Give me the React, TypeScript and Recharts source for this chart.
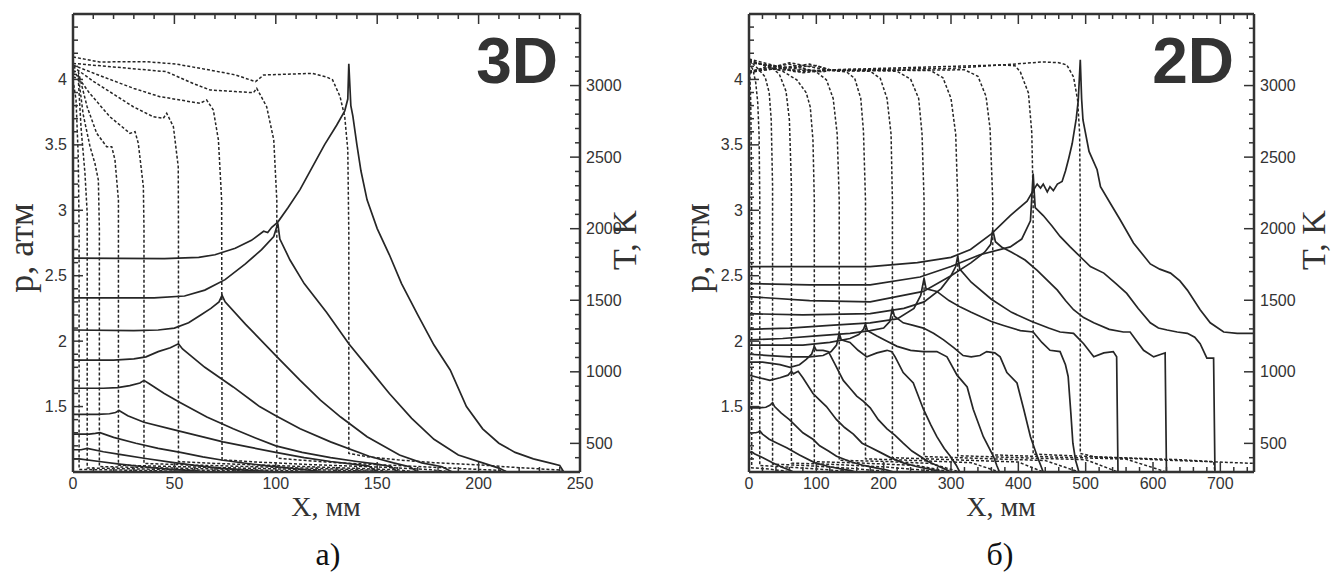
import React from 'react';
import { LineChart, Line, XAxis, YAxis, ReferenceLine } from 'recharts';

type Pt = [number, number];

// ---------- Axis ticks ----------
const x3dTicks = [0,10,20,30,40,50,60,70,80,90,100,110,120,130,140,150,160,170,180,190,200,210,220,230,240,250];
const x3dLabels = [0,50,100,150,200,250];
const x2dTicks = [0,20,40,60,80,100,120,140,160,180,200,220,240,260,280,300,320,340,360,380,400,420,440,460,480,500,520,540,560,580,600,620,640,660,680,700,720,740];
const x2dLabels = [0,100,200,300,400,500,600,700];
const pTicks = [1.1,1.2,1.3,1.4,1.5,1.6,1.7,1.8,1.9,2,2.1,2.2,2.3,2.4,2.5,2.6,2.7,2.8,2.9,3,3.1,3.2,3.3,3.4,3.5,3.6,3.7,3.8,3.9,4,4.1,4.2,4.3,4.4];
const pLabels = [1.5,2,2.5,3,3.5,4];
const TTicks = [400,500,600,700,800,900,1000,1100,1200,1300,1400,1500,1600,1700,1800,1900,2000,2100,2200,2300,2400,2500,2600,2700,2800,2900,3000,3100,3200,3300,3400];
const TLabels = [500,1000,1500,2000,2500,3000];

// ---------- 3D: pressure (solid), x mm -> p atm ----------
const p3d_1: Pt[] = [[0,1.10],[3,1.10],[13,1.08],[23,1.06],[35,1.04],[48,1.02],[60,1.01],[65,1.0]];
const p3d_2: Pt[] = [[0,1.17],[4,1.17],[7,1.18],[15,1.155],[23,1.135],[35,1.105],[48,1.075],[60,1.05],[72,1.03],[85,1.015],[100,1.0]];
const p3d_3: Pt[] = [[0,1.29],[8,1.29],[11,1.295],[13.3,1.30],[20,1.265],[31,1.22],[42,1.18],[53,1.15],[64,1.115],[74,1.09],[86,1.065],[97,1.045],[110,1.025],[125,1.0]];
const p3d_4: Pt[] = [[0,1.44],[12,1.44],[18,1.445],[21,1.455],[22.7,1.47],[27,1.43],[35,1.38],[48,1.33],[61,1.28],[74,1.23],[87,1.19],[100,1.15],[114,1.11],[127,1.08],[138,1.06],[146,1.045],[150,1.0]];
const p3d_5: Pt[] = [[0,1.64],[15,1.64],[22,1.645],[28,1.66],[33,1.68],[35,1.70],[38,1.67],[45,1.60],[53,1.53],[66,1.42],[79,1.33],[90,1.26],[100,1.20],[113,1.15],[127,1.11],[140,1.08],[150,1.06],[157,1.04],[160,1.0]];
const p3d_6: Pt[] = [[0,1.855],[20,1.855],[30,1.865],[36,1.88],[42,1.92],[48,1.95],[52,1.98],[54,1.94],[65,1.80],[79,1.65],[92,1.50],[100,1.43],[112,1.33],[127,1.23],[146,1.12],[158,1.07],[166,1.04],[170,1.0]];
const p3d_7: Pt[] = [[0,2.085],[30,2.08],[42,2.085],[50,2.10],[57,2.14],[63,2.20],[68,2.25],[72,2.30],[73.5,2.35],[75,2.30],[85,2.13],[100,1.89],[112,1.70],[122,1.55],[132,1.42],[145,1.27],[161,1.13],[172,1.07],[182,1.04],[187,1.0]];
const p3d_8: Pt[] = [[0,2.33],[40,2.33],[55,2.345],[65,2.39],[75,2.47],[85,2.59],[93,2.70],[99,2.80],[101,2.90],[102,2.78],[107,2.62],[114,2.44],[125,2.22],[136,1.98],[146,1.79],[156,1.60],[167,1.41],[178,1.25],[190,1.13],[202,1.07],[210,1.03],[214,1.0]];
const p3d_9: Pt[] = [[0,2.635],[45,2.63],[62,2.64],[70,2.66],[80,2.71],[88,2.77],[94,2.84],[96,2.83],[98,2.87],[101,2.91],[106,3.02],[112,3.16],[118,3.33],[124,3.50],[130,3.65],[134,3.76],[135.5,3.85],[136,4.12],[137,3.80],[138,3.72],[140,3.50],[142,3.30],[145,3.08],[150,2.86],[156,2.66],[162,2.44],[170,2.20],[178,1.97],[186,1.78],[194,1.50],[202,1.33],[210,1.22],[218,1.15],[227,1.10],[235,1.07],[240,1.05],[242,1.0]];

// ---------- 3D: temperature (dashed), x mm -> T K ----------
const t3d_1: Pt[] = [[0,3040],[1.5,2900],[2.6,2500],[3,2000],[3,318],[30,312],[55,305],[65,300]];
const t3d_2: Pt[] = [[0,3060],[2.6,3050],[4,2700],[5.9,2387],[7,2110],[7,328],[30,322],[60,314],[90,306],[100,300]];
const t3d_3: Pt[] = [[0,3080],[2.6,3074],[5,2800],[8.4,2573],[10.8,2457],[12.5,2340],[13,2000],[13,338],[40,330],[80,318],[110,308],[125,300]];
const t3d_4: Pt[] = [[0,3100],[2.6,3097],[7,2850],[11.7,2666],[16.6,2573],[19.1,2573],[20.7,2480],[22.4,2200],[22.4,348],[50,338],[90,325],[120,316],[148,305],[150,300]];
const t3d_5: Pt[] = [[0,3109],[8,2950],[18.2,2782],[28.1,2666],[30.6,2678],[32.2,2596],[34.7,2293],[35,2000],[35,360],[60,348],[90,337],[120,325],[150,312],[160,300]];
const t3d_6: Pt[] = [[0,3132],[10,3030],[20,2940],[29.7,2852],[39.6,2782],[44.5,2771],[46.2,2806],[49.5,2713],[51.9,2433],[52,2000],[52,372],[70,360],[100,345],[130,330],[160,315],[170,300]];
const t3d_7: Pt[] = [[0,3143],[15,3060],[30,2980],[42.9,2922],[47.9,2911],[62.6,2876],[65.9,2899],[69.2,2829],[71.7,2620],[73.3,2200],[73.5,385],[90,370],[120,350],[150,335],[175,318],[187,300]];
const t3d_8: Pt[] = [[0,3155],[20,3130],[46,3097],[60,3010],[67.6,2969],[80,2958],[89,2950],[90.6,2981],[95.5,2852],[99,2620],[100.5,2200],[100.5,398],[110,385],[130,365],[160,345],[190,325],[212,310],[214,300]];
const t3d_9: Pt[] = [[0,3200],[13,3165],[36,3167],[51,3150],[63,3120],[80,3075],[90,3027],[94,3074],[118,3085],[125,3060],[128,3040],[131.7,2922],[134,2782],[135.5,2550],[136,1968],[136,430],[145,407],[160,385],[178,365],[201,349],[215,335],[230,322],[240,314],[242,300]];

// ---------- 2D: pressure (solid) ----------
const p2d_01: Pt[] = [[0,1.145],[2,1.15],[4,1.155],[8,1.14],[20,1.11],[35,1.07],[50,1.035],[60,1.015],[66,1.0]];
const p2d_02: Pt[] = [[0,1.30],[10,1.30],[14,1.305],[16,1.315],[20,1.29],[30,1.25],[42,1.22],[56,1.185],[75,1.13],[98,1.07],[120,1.04],[140,1.02],[152,1.01],[158,1.0]];
const p2d_03: Pt[] = [[0,1.49],[15,1.49],[25,1.495],[31,1.51],[35,1.53],[38,1.50],[48,1.45],[60,1.40],[80,1.30],[95,1.25],[105,1.20],[118,1.16],[130,1.12],[150,1.08],[170,1.05],[190,1.03],[205,1.015],[215,1.0]];
const p2d_04: Pt[] = [[0,1.74],[15,1.72],[31,1.70],[46,1.72],[58,1.74],[63,1.77],[66,1.75],[73,1.77],[80,1.72],[95,1.60],[105,1.55],[115,1.50],[130,1.40],[142,1.34],[155,1.29],[168,1.22],[180,1.19],[195,1.15],[210,1.11],[229,1.07],[250,1.04],[270,1.02],[290,1.0]];
const p2d_05: Pt[] = [[0,1.84],[20,1.84],[46,1.82],[61,1.80],[75,1.82],[85,1.86],[93,1.90],[97,1.96],[100,1.93],[110,1.93],[118,1.92],[128,1.82],[140,1.70],[150,1.64],[160,1.58],[170,1.54],[180,1.49],[192,1.40],[205,1.33],[217,1.28],[229,1.22],[242,1.16],[254,1.12],[266,1.08],[279,1.05],[292,1.02],[300,1.0]];
const p2d_06: Pt[] = [[0,1.90],[30,1.89],[60,1.88],[90,1.88],[110,1.89],[122,1.92],[130,1.97],[134,2.06],[137,2.01],[150,1.99],[162,1.93],[175,1.88],[190,1.91],[205,1.93],[212,1.92],[217,1.88],[229,1.76],[244,1.68],[259,1.48],[270,1.36],[279,1.27],[290,1.18],[299,1.12],[308,1.05],[313,1.0]];
const p2d_07: Pt[] = [[0,1.97],[40,1.97],[80,1.97],[120,1.99],[150,2.02],[163,2.05],[170,2.09],[173,2.13],[176,2.08],[190,2.04],[205,2.00],[220,1.96],[240,1.93],[259,1.92],[279,1.92],[294,1.88],[309,1.74],[324,1.65],[333,1.48],[348,1.27],[363,1.12],[368,1.05],[372,1.0]];
const p2d_08: Pt[] = [[0,2.01],[50,2.02],[100,2.04],[150,2.06],[180,2.08],[200,2.10],[209,2.15],[213,2.25],[216,2.19],[229,2.14],[244,2.12],[259,2.10],[274,2.06],[289,2.01],[304,1.95],[318,1.89],[330,1.88],[343,1.89],[353,1.92],[365,1.91],[373,1.88],[383,1.76],[398,1.68],[408,1.48],[418,1.27],[428,1.12],[437,1.0]];
const p2d_09: Pt[] = [[0,2.09],[60,2.10],[120,2.12],[180,2.14],[220,2.17],[245,2.25],[255,2.35],[260,2.48],[263,2.40],[279,2.38],[297,2.31],[314,2.26],[330,2.22],[343,2.19],[360,2.15],[378,2.12],[403,2.08],[422,2.07],[435,1.99],[447,1.93],[462,1.92],[470,1.82],[474,1.73],[478,1.45],[481,1.22],[485,1.09],[490,1.0]];
const p2d_10: Pt[] = [[0,2.21],[80,2.20],[180,2.21],[230,2.25],[260,2.30],[285,2.40],[300,2.50],[307,2.57],[310,2.65],[313,2.55],[330,2.45],[360,2.32],[390,2.22],[420,2.15],[445,2.10],[462,2.07],[482,2.06],[497,1.98],[512,1.88],[527,1.91],[541,1.92],[546,1.88],[548,1.0]];
const p2d_11: Pt[] = [[0,2.34],[90,2.31],[180,2.30],[259,2.38],[300,2.50],[330,2.60],[350,2.68],[359,2.74],[362,2.85],[366,2.76],[375,2.72],[390,2.68],[410,2.62],[428,2.54],[458,2.39],[470,2.31],[482,2.24],[497,2.18],[512,2.14],[535,2.09],[556,2.07],[566,2.07],[576,2.00],[586,1.93],[601,1.88],[612,1.90],[618,1.91],[620,1.0]];
const p2d_12: Pt[] = [[0,2.44],[90,2.43],[180,2.43],[254,2.49],[300,2.57],[343,2.66],[388,2.72],[405,2.78],[418,2.92],[422,3.28],[425,3.02],[437,2.96],[450,2.88],[462,2.80],[477,2.72],[492,2.645],[507,2.57],[527,2.52],[545,2.44],[561,2.365],[578,2.25],[596,2.14],[608,2.10],[621,2.085],[636,2.07],[651,2.06],[662,2.03],[670,1.98],[680,1.87],[690,1.87],[692,1.0]];
const p2d_13: Pt[] = [[0,2.57],[90,2.57],[180,2.57],[250,2.60],[300,2.64],[329,2.70],[360,2.82],[388,2.96],[413,3.07],[422,3.15],[428,3.20],[433,3.17],[437,3.20],[443,3.14],[447,3.18],[452,3.15],[458,3.20],[465,3.22],[470,3.30],[475,3.40],[480,3.51],[486,3.70],[489,3.84],[492,4.15],[494,3.85],[496,3.69],[505,3.45],[517,3.31],[522,3.18],[537,3.05],[551,2.93],[571,2.75],[596,2.59],[610,2.55],[626,2.52],[640,2.46],[651,2.39],[670,2.24],[685,2.14],[705,2.07],[725,2.06],[750,2.06]];

// ---------- 2D: temperature (dashed) ----------
const t2d_01: Pt[] = [[0,3130],[1,3100],[2.5,2900],[3.5,2500],[4,2000],[4,330],[30,320],[55,306],[66,300]];
const t2d_02: Pt[] = [[0,3160],[6,3110],[10,3020],[13,2880],[15,2650],[16,2200],[16,345],[60,334],[110,318],[158,300]];
const t2d_03: Pt[] = [[0,3180],[15,3110],[24,3060],[30,2950],[33,2760],[35,2300],[35,355],[80,346],[150,326],[215,300]];
const t2d_04: Pt[] = [[0,3090],[30,3140],[45,3080],[55,2960],[60,2760],[63,2300],[63,362],[120,354],[200,336],[290,300]];
const t2d_05: Pt[] = [[0,3175],[50,3100],[71,3040],[85,2950],[91,2850],[95,2620],[97,2200],[97,372],[160,364],[250,345],[300,300]];
const t2d_06: Pt[] = [[0,3100],[60,3150],[100,3095],[115,3040],[125,2910],[131,2660],[134,2200],[134,382],[200,374],[270,360],[313,300]];
const t2d_07: Pt[] = [[0,3185],[80,3090],[120,3108],[145,3095],[157,3050],[166,2910],[170,2680],[173,2200],[173,392],[250,380],[330,365],[372,300]];
const t2d_08: Pt[] = [[0,3085],[60,3160],[120,3105],[180,3100],[195,3050],[205,2910],[211,2660],[213,2200],[213,400],[300,386],[400,370],[437,300]];
const t2d_09: Pt[] = [[0,3170],[70,3095],[120,3110],[220,3100],[240,3045],[252,2910],[257,2660],[260,2200],[260,408],[350,394],[440,380],[490,300]];
const t2d_10: Pt[] = [[0,3095],[90,3150],[120,3110],[270,3105],[288,3055],[300,2910],[307,2660],[310,2200],[310,414],[400,400],[500,386],[548,300]];
const t2d_11: Pt[] = [[0,3180],[40,3110],[120,3105],[320,3110],[340,3065],[352,2925],[358,2700],[362,2200],[362,420],[450,405],[560,390],[620,300]];
const t2d_12: Pt[] = [[0,3100],[100,3140],[120,3110],[375,3144],[395,3138],[403,3095],[415,2948],[420,2670],[422,2200],[422,425],[520,405],[640,386],[690,372],[692,300]];
const t2d_13: Pt[] = [[0,3160],[110,3095],[120,3110],[300,3120],[375,3144],[437,3165],[460,3160],[472,3144],[482,3060],[488,2900],[491,2670],[492,2200],[492,430],[512,407],[611,384],[685,372],[745,361],[750,360]];

const p3dSeries = [p3d_1, p3d_2, p3d_3, p3d_4, p3d_5, p3d_6, p3d_7, p3d_8, p3d_9];
const t3dSeries = [t3d_1, t3d_2, t3d_3, t3d_4, t3d_5, t3d_6, t3d_7, t3d_8, t3d_9];
const p2dSeries = [p2d_01, p2d_02, p2d_03, p2d_04, p2d_05, p2d_06, p2d_07, p2d_08, p2d_09, p2d_10, p2d_11, p2d_12, p2d_13];
const t2dSeries = [t2d_01, t2d_02, t2d_03, t2d_04, t2d_05, t2d_06, t2d_07, t2d_08, t2d_09, t2d_10, t2d_11, t2d_12, t2d_13];

const W = 1335;
const H = 578;
const PLOT_TOP = 14;
const PLOT_BOTTOM = 472;
const AX = '#333';
const LINE = '#262626';
const SANS = '"Liberation Sans", Arial, Helvetica, sans-serif';
const SERIF = '"Liberation Serif", "Times New Roman", serif';

const toData = (a: Pt[]) => a.map(([x, y]) => ({ x, y }));

const makeXTick = (labels: number[]) => (props: any) => {
  const { x, y, payload } = props;
  const major = labels.includes(payload.value);
  const len = major ? 10 : 5;
  return (
    <g>
      <line x1={x} x2={x} y1={y} y2={y - len} stroke={AX} strokeWidth={1.5} />
      <line x1={x} x2={x} y1={PLOT_TOP} y2={PLOT_TOP + len} stroke={AX} strokeWidth={1.5} />
      {major && (
        <text x={x} y={y + 17} textAnchor="middle" fontSize={16} fill="#333" fontFamily={SANS}>
          {payload.value}
        </text>
      )}
    </g>
  );
};

const makeLeftTick = (labels: number[]) => (props: any) => {
  const { x, y, payload } = props;
  const major = labels.includes(payload.value);
  const len = major ? 10 : 5;
  return (
    <g>
      <line x1={x} x2={x + len} y1={y} y2={y} stroke={AX} strokeWidth={1.5} />
      {major && (
        <text x={x - 6} y={y} dy="0.35em" textAnchor="end" fontSize={16} fill="#333" fontFamily={SANS}>
          {payload.value}
        </text>
      )}
    </g>
  );
};

const makeRightTick = (labels: number[]) => (props: any) => {
  const { x, y, payload } = props;
  const major = labels.includes(payload.value);
  const len = major ? 10 : 5;
  return (
    <g>
      <line x1={x} x2={x - len} y1={y} y2={y} stroke={AX} strokeWidth={1.5} />
      {major && (
        <text x={x + 6} y={y} dy="0.35em" textAnchor="start" fontSize={16} fill="#333" fontFamily={SANS}>
          {payload.value}
        </text>
      )}
    </g>
  );
};

interface PanelProps {
  plotLeft: number;
  plotRight: number;
  xMax: number;
  xTicks: number[];
  xLabels: number[];
  pSeries: Pt[][];
  tSeries: Pt[][];
}

function Panel({ plotLeft, plotRight, xMax, xTicks, xLabels, pSeries, tSeries }: PanelProps) {
  const yW = 40;
  const yRW = 60;
  const xH = 30;
  return (
    <div style={{ position: 'absolute', left: 0, top: 0 }}>
      <LineChart
        width={W}
        height={H}
        margin={{ top: PLOT_TOP, bottom: H - PLOT_BOTTOM - xH, left: plotLeft - yW, right: W - plotRight - yRW }}
      >
        <XAxis
          xAxisId="x"
          type="number"
          dataKey="x"
          domain={[0, xMax]}
          allowDataOverflow
          ticks={xTicks}
          interval={0}
          tickSize={0}
          tickMargin={0}
          tickLine={false}
          height={xH}
          axisLine={{ stroke: AX, strokeWidth: 2.5 }}
          tick={makeXTick(xLabels)}
        />
        <YAxis
          yAxisId="p"
          orientation="left"
          type="number"
          domain={[1, 4.5]}
          allowDataOverflow
          ticks={pTicks}
          interval={0}
          tickSize={0}
          tickMargin={0}
          tickLine={false}
          width={yW}
          axisLine={{ stroke: AX, strokeWidth: 2.5 }}
          tick={makeLeftTick(pLabels)}
        />
        <YAxis
          yAxisId="T"
          orientation="right"
          type="number"
          domain={[300, 3500]}
          allowDataOverflow
          ticks={TTicks}
          interval={0}
          tickSize={0}
          tickMargin={0}
          tickLine={false}
          width={yRW}
          axisLine={{ stroke: AX, strokeWidth: 2.5 }}
          tick={makeRightTick(TLabels)}
        />
        <ReferenceLine xAxisId="x" yAxisId="T" y={3500} stroke={AX} strokeWidth={2.5} />
        {tSeries.map((s, i) => (
          <Line
            key={'t' + i}
            xAxisId="x"
            yAxisId="T"
            data={toData(s)}
            dataKey="y"
            type="linear"
            dot={false}
            stroke={LINE}
            strokeWidth={1.5}
            strokeDasharray="3 2"
            isAnimationActive={false}
          />
        ))}
        {pSeries.map((s, i) => (
          <Line
            key={'p' + i}
            xAxisId="x"
            yAxisId="p"
            data={toData(s)}
            dataKey="y"
            type="linear"
            dot={false}
            stroke={LINE}
            strokeWidth={1.7}
            isAnimationActive={false}
          />
        ))}
      </LineChart>
    </div>
  );
}

export default function App() {
  return (
    <div style={{ position: 'absolute', left: 0, top: 0, width: W, height: H, background: '#fff', overflow: 'hidden' }}>
      <Panel plotLeft={73} plotRight={580} xMax={250} xTicks={x3dTicks} xLabels={x3dLabels} pSeries={p3dSeries} tSeries={t3dSeries} />
      <Panel plotLeft={749} plotRight={1254} xMax={750} xTicks={x2dTicks} xLabels={x2dLabels} pSeries={p2dSeries} tSeries={t2dSeries} />
      <svg width={W} height={H} style={{ position: 'absolute', left: 0, top: 0, pointerEvents: 'none' }}>
        <text x={558} y={83} textAnchor="end" fontSize={64} fontWeight="bold" fill="#333" fontFamily={SANS}>3D</text>
        <text x={1234} y={83} textAnchor="end" fontSize={64} fontWeight="bold" fill="#333" fontFamily={SANS}>2D</text>

        <text x={33} y={248} transform="rotate(-90 33 248)" textAnchor="middle" fontSize={36} fill="#333" fontFamily={SERIF}>p, атм</text>
        <text x={709} y={248} transform="rotate(-90 709 248)" textAnchor="middle" fontSize={36} fill="#333" fontFamily={SERIF}>p, атм</text>
        <text x={636} y={240} transform="rotate(-90 636 240)" textAnchor="middle" fontSize={34} fill="#333" fontFamily={SERIF}>T, K</text>
        <text x={1325} y={240} transform="rotate(-90 1325 240)" textAnchor="middle" fontSize={34} fill="#333" fontFamily={SERIF}>T, K</text>

        <text x={326} y={516} textAnchor="middle" fontSize={28} fill="#333" fontFamily={SERIF}>X, мм</text>
        <text x={1001} y={516} textAnchor="middle" fontSize={28} fill="#333" fontFamily={SERIF}>X, мм</text>

        <text x={328} y={565} textAnchor="middle" fontSize={32} fill="#111" fontFamily={SERIF}>а)</text>
        <text x={1000} y={565} textAnchor="middle" fontSize={32} fill="#111" fontFamily={SERIF}>б)</text>
      </svg>
    </div>
  );
}
